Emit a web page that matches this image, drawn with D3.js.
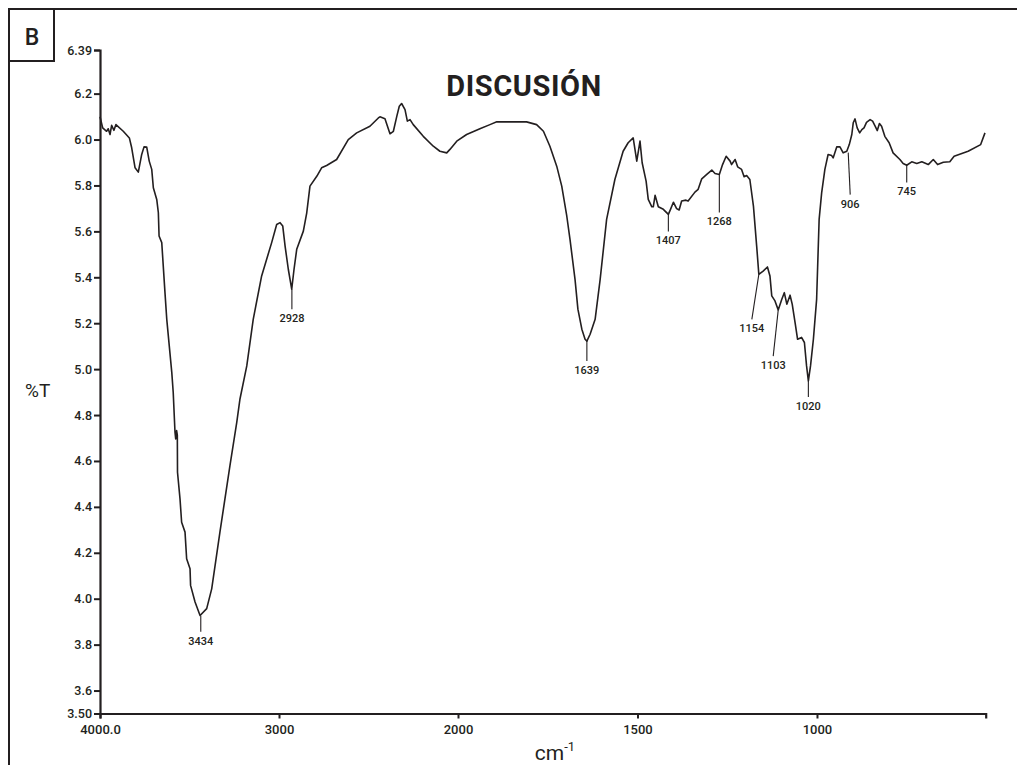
<!DOCTYPE html>
<html>
<head>
<meta charset="utf-8">
<script src="https://cdn.jsdelivr.net/npm/d3@7"></script>
<style>
  html, body { margin: 0; padding: 0; background: #fff; }
  svg { display: block; }
  text { font-family: Roboto, "Noto Sans", sans-serif; fill: #231f20; }
</style>
</head>
<body>
<svg id="chart" width="1017" height="765"></svg>
<script>
// ---- data ----
const wavenumbers = [4000,3985,3963,3954,3944,3935,3922,3911,3870,3836,3823,3804,3786,3767,3754,3739,3725,3711,3702,3683,3674,3670,3655,3637,3627,3599,3591,3581,3577,3572,3568,3567,3553,3544,3525,3516,3497,3494,3469,3441,3404,3376,3330,3274,3236,3218,3180,3144,3097,3041,3013,2994,2979,2966,2948,2929,2916,2901,2864,2845,2827,2789,2762,2734,2678,2613,2566,2492,2445,2436,2408,2380,2361,2342,2328,2315,2296,2283,2268,2250,2194,2138,2101,2063,2045,2007,
  1976,1939,1911,1892,1809,1781,1762,1744,1725,1711,1697,1688,1674,1666,1655,1646,1641,1632,1618,1604,1586,1563,1540,1526,1512,1502,1493,1487,1476,1470,1460,1456,1451,1442,1428,1414,1408,1400,1391,1384,1377,1365,1359,1340,1331,1321,1307,1293,1284,1272,1263,1253,1242,1238,1228,1221,1210,1203,1196,1187,1177,1168,1162,1150,1138,1131,1126,1117,1108,1098,1091,1084,1075,1069,1061,1054,1043,1035,1029,1024,1018,1010,1001,994,987,978,969,959,955,945,936,927,917,910,903,899,894,888,881,875,869,862,852,845,838,832,826,820,811,799,788,769,760,750,736,722,708,690,676,664,648,630,618,579,544,532];
const transmittance = [6.099,6.051,6.036,6.047,6.022,6.062,6.040,6.065,6.036,6.007,5.964,5.877,5.858,5.935,5.968,5.967,5.906,5.870,5.790,5.739,5.681,5.580,5.551,5.333,5.217,4.986,4.899,4.725,4.696,4.732,4.713,4.551,4.435,4.333,4.290,4.174,4.130,4.058,3.986,3.927,3.957,4.043,4.290,4.580,4.768,4.870,5.014,5.217,5.406,5.551,5.630,5.638,5.623,5.536,5.435,5.348,5.435,5.522,5.601,5.681,5.797,5.840,5.877,5.887,5.913,6.000,6.029,6.058,6.094,6.099,6.091,6.025,6.036,6.101,6.145,6.157,6.130,6.080,6.087,6.065,6.014,5.971,5.949,5.942,5.957,5.993,
  6.022,6.047,6.065,6.077,6.077,6.065,6.036,5.971,5.884,5.797,5.667,5.565,5.391,5.261,5.174,5.130,5.122,5.152,5.217,5.391,5.652,5.826,5.949,5.986,6.007,5.906,5.993,5.899,5.819,5.739,5.707,5.707,5.757,5.707,5.696,5.674,5.696,5.727,5.699,5.693,5.732,5.736,5.732,5.771,5.783,5.829,5.848,5.867,5.852,5.848,5.891,5.927,5.906,5.891,5.913,5.881,5.870,5.838,5.843,5.826,5.710,5.536,5.413,5.427,5.445,5.406,5.319,5.297,5.258,5.304,5.333,5.283,5.322,5.283,5.203,5.130,5.138,5.116,5.014,4.949,5.014,5.130,5.304,5.652,5.768,5.870,5.935,5.930,5.920,5.968,5.968,5.942,5.949,5.978,6.022,6.073,6.090,6.051,6.029,6.043,6.051,6.075,6.087,6.080,6.058,6.039,6.070,6.058,6.014,5.986,5.942,5.913,5.896,5.888,5.903,5.896,5.903,5.891,5.913,5.891,5.901,5.903,5.927,5.949,5.978,6.029];

const xTickValues = [4000, 3000, 2000, 1500, 1000];
const xTickLabels = ["4000.0", "3000", "2000", "1500", "1000"];
const yTickValues = [6.39, 6.2, 6.0, 5.8, 5.6, 5.4, 5.2, 5.0, 4.8, 4.6, 4.4, 4.2, 4.0, 3.8, 3.6, 3.5];
const yTickLabels = ["6.39", "6.2", "6.0", "5.8", "5.6", "5.4", "5.2", "5.0", "4.8", "4.6", "4.4", "4.2", "4.0", "3.8", "3.6", "3.50"];

const peakLabels = ["3434", "2928", "1639", "1407", "1268", "1154", "1103", "1020", "906", "745"];
const peakWn     = [3437, 2928, 1641, 1414, 1272, 1162, 1108, 1024, 913, 750];
const peakT      = [3.926, 5.348, 5.122, 5.674, 5.848, 5.413, 5.257, 4.948, 5.943, 5.887];

const xDomain = [4000, 2000, 530];
const yDomain = [3.5, 6.39];

// ---- layout (styling only) ----
const peakLeader = [ // [dx, dy] of the leader line end, in px
  [0, 16], [0, 20], [0, 20], [0, 17], [0, 38], [-7, 45], [-5, 46], [0, 16], [2, 42], [0, 17]
];

const svg = d3.select("#chart");
const x = d3.scaleLinear().domain(xDomain).range([100, 458, 985.7]);
const y = d3.scaleLinear().domain(yDomain).range([713.5, 50]);

// frame
svg.append("path")
  .attr("d", "M9,765V9H1017")
  .attr("fill", "none").attr("stroke", "#231f20").attr("stroke-width", 2);
svg.append("rect")
  .attr("x", 9).attr("y", 9).attr("width", 45).attr("height", 52)
  .attr("fill", "none").attr("stroke", "#231f20").attr("stroke-width", 2);
svg.append("text")
  .attr("x", 32).attr("y", 45).attr("text-anchor", "middle")
  .attr("font-size", 23).attr("font-weight", 500).text("B");

// title
svg.append("text")
  .attr("x", 524).attr("y", 96).attr("text-anchor", "middle")
  .attr("font-size", 29).attr("font-weight", 700).attr("letter-spacing", 0.6)
  .text("DISCUSIÓN");

// axes
const yAxis = d3.axisLeft(y)
  .tickValues(yTickValues)
  .tickFormat((d, i) => yTickLabels[i])
  .tickSizeOuter(0).tickSize(6).tickPadding(2);
const gy = svg.append("g").attr("transform", "translate(100,0)").call(yAxis);

const xAxis = d3.axisBottom(x)
  .tickValues(xTickValues)
  .tickFormat((d, i) => xTickLabels[i])
  .tickSizeOuter(0).tickSize(5).tickPadding(6);
const gx = svg.append("g").attr("transform", "translate(0," + y(3.5) + ")").call(xAxis);

[gx, gy].forEach(g => {
  g.select(".domain").attr("stroke", "#231f20").attr("stroke-width", 2.2);
  g.selectAll(".tick line").attr("stroke", "#231f20").attr("stroke-width", 2);
  g.selectAll(".tick text").attr("fill", "#231f20")
    .attr("font-family", "Roboto, sans-serif").attr("font-size", 12.5).attr("font-weight", 500);
});
gx.selectAll(".tick text").attr("font-size", 13);

// axis titles
svg.append("text")
  .attr("x", 25).attr("y", 397)
  .attr("font-size", 19).text("%T");
const xt = svg.append("text")
  .attr("x", 555).attr("y", 760).attr("text-anchor", "middle")
  .attr("font-size", 21);
xt.append("tspan").text("cm");
xt.append("tspan").attr("font-size", 13).attr("dy", -9).text("-1");

// spectrum
const pts = wavenumbers.map((w, i) => [w, transmittance[i]]);
const line = d3.line().x(d => x(d[0])).y(d => y(d[1]));
svg.append("path")
  .datum(pts)
  .attr("d", line)
  .attr("fill", "none")
  .attr("stroke", "#231f20")
  .attr("stroke-width", 1.6)
  .attr("stroke-linejoin", "round");

// peak annotations
const ann = svg.append("g");
peakLabels.forEach((lab, i) => {
  const px = x(peakWn[i]), py = y(peakT[i]);
  const [dx, dy] = peakLeader[i];
  ann.append("line")
    .attr("x1", px).attr("y1", py).attr("x2", px + dx).attr("y2", py + dy)
    .attr("stroke", "#231f20").attr("stroke-width", 1.1);
  ann.append("text")
    .attr("x", px + dx).attr("y", py + dy + 13)
    .attr("text-anchor", "middle")
    .attr("font-size", 11).attr("font-weight", 500)
    .text(lab);
});
</script>
</body>
</html>
